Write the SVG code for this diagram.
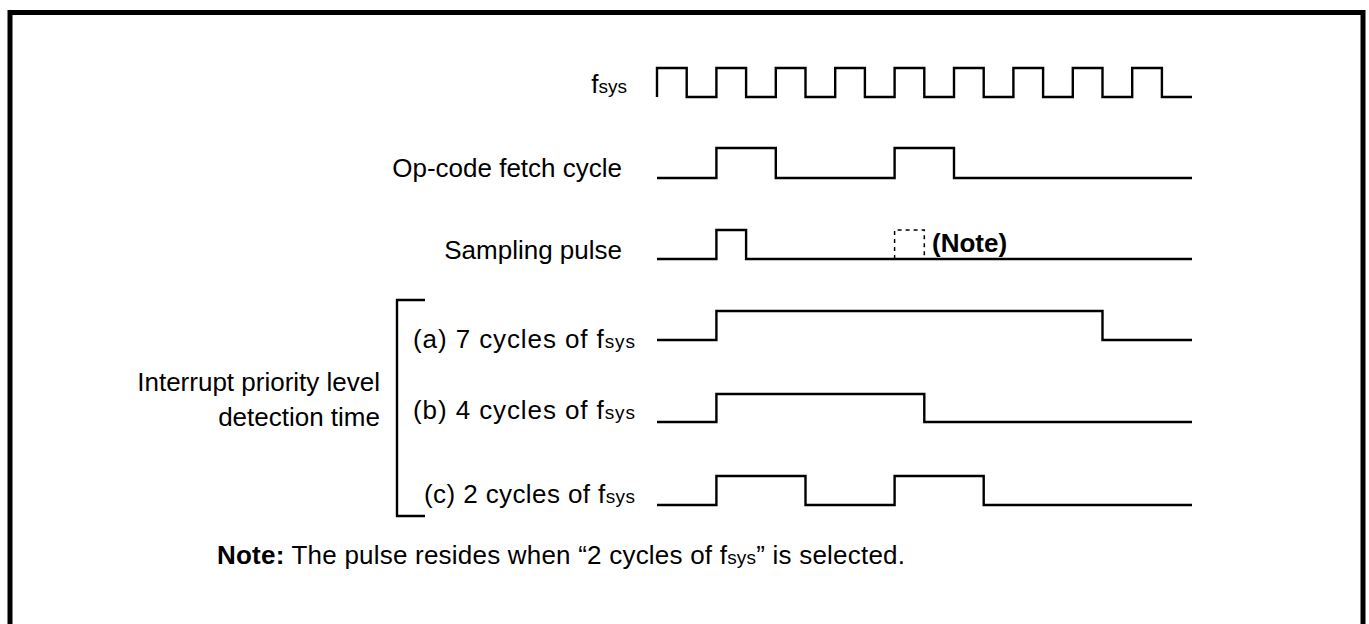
<svg xmlns="http://www.w3.org/2000/svg" width="1369" height="624" viewBox="0 0 1369 624">
<style>
.t{font-family:"Liberation Sans",Arial,sans-serif;font-size:26px;fill:#000}
.s{font-size:19px}
.b{font-weight:bold}
.w{fill:none;stroke:#000;stroke-width:2.4}
.d{fill:none;stroke:#000;stroke-width:1.5;stroke-dasharray:4 4}
</style>
<rect x="0" y="0" width="1369" height="624" fill="#fff"/>
<rect x="10" y="12.5" width="1353" height="640" fill="none" stroke="#000" stroke-width="5"/>
<g id="labels">
<text class="t" x="627" y="93" text-anchor="end">f<tspan class="s">sys</tspan></text>
<text class="t" x="622" y="177" text-anchor="end">Op-code fetch cycle</text>
<text class="t" x="622" y="259" text-anchor="end">Sampling pulse</text>
<text class="t" x="413" y="348" textLength="222" lengthAdjust="spacing">(a) 7 cycles of f<tspan class="s">sys</tspan></text>
<text class="t" x="413" y="419" textLength="222" lengthAdjust="spacing">(b) 4 cycles of f<tspan class="s">sys</tspan></text>
<text class="t" x="424" y="503" textLength="211" lengthAdjust="spacing">(c) 2 cycles of f<tspan class="s">sys</tspan></text>
<text class="t" x="380" y="391" text-anchor="end">Interrupt priority level</text>
<text class="t" x="380" y="426" text-anchor="end">detection time</text>
<text class="t b" x="932" y="252">(Note)</text>
<text class="t" x="217" y="564" textLength="688" lengthAdjust="spacing"><tspan class="b">Note:</tspan> The pulse resides when “2 cycles of f<tspan class="s">sys</tspan>” is selected.</text>
</g>
<g id="connectors">
<path class="w" d="M425,300 H397 V516 H425"/>
<path id="fsys" class="w" d="M657,97 V68 H686.7 V97 H716.4 V68 H746.1 V97 H775.8 V68 H805.5 V97 H835.2 V68 H864.9 V97 H894.6 V68 H924.3 V97 H954 V68 H983.7 V97 H1013.4 V68 H1043.1 V97 H1072.8 V68 H1102.5 V97 H1132.2 V68 H1161.9 V97 H1192"/>
<path id="opcode" class="w" d="M657,178 H716.4 V148 H775.8 V178 H894.6 V148 H954 V178 H1192"/>
<path id="sampling" class="w" d="M657,259 H716.4 V230 H746.1 V259 H1192"/>
<path class="d" d="M894.6,259 V230 H924.3 V259"/>
<path id="sig-a" class="w" d="M657,340 H716.4 V311 H1102.5 V340 H1192"/>
<path id="sig-b" class="w" d="M657,422 H716.4 V394 H924.3 V422 H1192"/>
<path id="sig-c" class="w" d="M657,505 H716.4 V476 H805.5 V505 H894.6 V476 H983.7 V505 H1192"/>
</g>
</svg>
